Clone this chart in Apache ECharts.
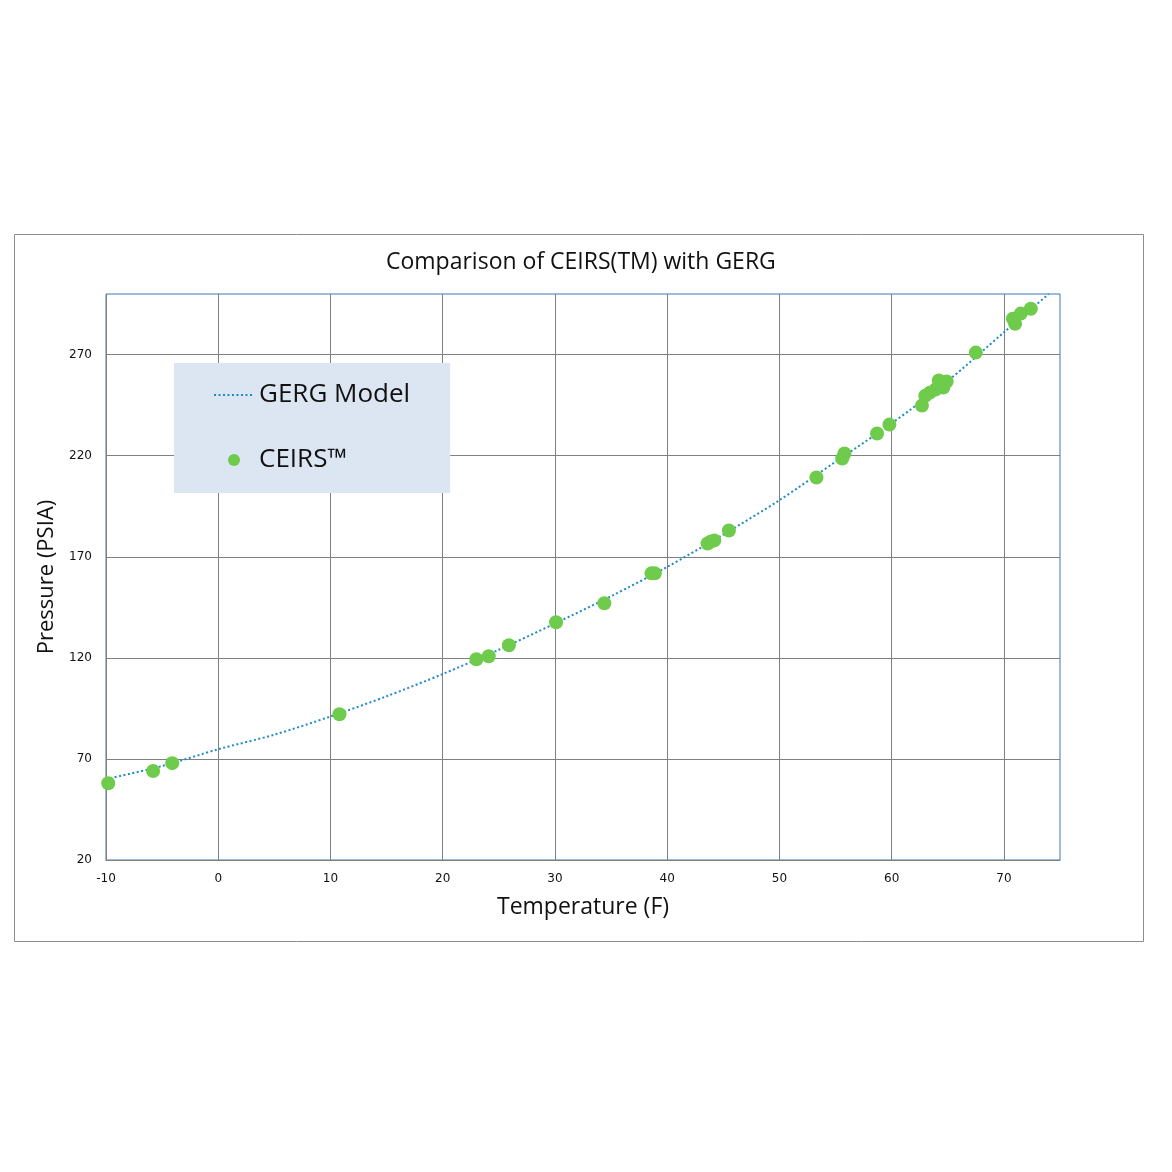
<!DOCTYPE html>
<html>
<head>
<meta charset="utf-8">
<script src="https://cdn.jsdelivr.net/npm/echarts@6/dist/echarts.min.js"></script>
<style>
html,body{margin:0;padding:0;background:#fff;}
#chart{width:1172px;height:1172px;}
</style>
</head>
<body>
<div id="chart"></div>
<script>
// GERG model curve (temperature F, pressure PSIA)
const gergTemp = [-10, -5, 0, 5, 10, 15, 20, 25, 30, 35, 40, 45, 50, 55, 60, 65, 70, 74];
const gergPress = [60, 66.5, 74.8, 82, 91, 101, 112, 124, 137, 150.5, 165, 181, 198, 217, 236, 257, 281, 300];

// CEIRS measurements
const ceirsTemp = [-9.8, -5.8, -4.1, 10.8, 23.0, 24.1, 25.9, 30.1, 34.4, 38.6, 38.9, 43.6, 43.9, 44.2, 45.5,
  53.3, 55.6, 55.8, 58.7, 59.8, 62.7, 63.0, 63.4, 63.9, 64.2, 64.9, 64.6, 67.5, 71.0, 70.8, 71.5, 72.4];
const ceirsPress = [58.0, 64.0, 67.9, 92.1, 119.3, 120.8, 126.2, 137.6, 147.0, 161.8, 161.8, 176.6, 177.6, 178.1, 183.0,
  209.2, 218.6, 221.1, 231.0, 235.4, 244.8, 249.7, 251.2, 252.7, 257.2, 256.7, 253.7, 271.0, 285.3, 287.8, 290.3, 292.7];

const xTicks = {min: -10, max: 75, interval: 10};
const yTicks = {min: 20, max: 300, interval: 50};

const chart = echarts.init(document.getElementById('chart'));
const font = '"Open Sans", "Noto Sans", sans-serif';
chart.setOption({
  backgroundColor: '#fff',
  animation: false,
  title: {
    text: 'Comparison of CEIRS(TM) with GERG',
    left: 381, top: 246,
    textStyle: {fontFamily: font, fontSize: 23, fontWeight: 'normal', color: '#111'}
  },
  graphic: [{
    type: 'rect', z: -10, silent: true,
    shape: {x: 14.5, y: 234.5, width: 1129, height: 707},
    style: {fill: 'none', stroke: '#8c8c8c', lineWidth: 1}
  }],
  legend: {
    orient: 'vertical', left: 174, top: 363,
    backgroundColor: '#dce6f2',
    padding: [16, 40, 17, 39],
    itemWidth: 40, itemHeight: 12, itemGap: 33,
    textStyle: {fontFamily: font, fontSize: 26, color: '#111', lineHeight: 32},
    data: [
      {name: 'GERG Model', itemStyle: {opacity: 0}},
      {name: 'CEIRS\u2122'}
    ]
  },
  grid: {
    left: 106, top: 294, right: 112, bottom: 312,
    show: true, borderColor: '#3a78b5', borderWidth: 1, backgroundColor: 'transparent'
  },
  xAxis: {
    type: 'value', min: xTicks.min, max: xTicks.max, interval: xTicks.interval,
    name: 'Temperature (F)', nameLocation: 'middle', nameGap: 36,
    nameTextStyle: {fontFamily: font, fontSize: 23, color: '#111'},
    axisLine: {show: true, lineStyle: {color: '#808080', width: 1}},
    axisTick: {show: false},
    splitLine: {show: true, showMaxLine: false, lineStyle: {color: '#808080', width: 1}},
    axisLabel: {showMaxLabel: false, margin: 13, fontFamily: '"DejaVu Sans", sans-serif', fontSize: 12, color: '#111'}
  },
  yAxis: {
    type: 'value', min: yTicks.min, max: yTicks.max, interval: yTicks.interval,
    name: 'Pressure (PSIA)', nameLocation: 'middle', nameGap: 45,
    nameTextStyle: {fontFamily: font, fontSize: 22, color: '#111'},
    axisLine: {show: true, lineStyle: {color: '#808080', width: 1}},
    axisTick: {show: false},
    splitLine: {show: true, showMaxLine: false, lineStyle: {color: '#808080', width: 1}},
    axisLabel: {showMaxLabel: false, margin: 14, fontFamily: '"DejaVu Sans", sans-serif', fontSize: 12, color: '#111'}
  },
  series: [
    {
      name: 'GERG Model', type: 'line', smooth: 0.3, showSymbol: false, symbol: 'none',
      data: gergTemp.map((t, i) => [t, gergPress[i]]),
      lineStyle: {color: '#1f8ac4', width: 2, type: [2, 2.5]},
      itemStyle: {color: '#1f8ac4'},
      z: 3
    },
    {
      name: 'CEIRS\u2122', type: 'scatter', symbol: 'circle', symbolSize: 14,
      data: ceirsTemp.map((t, i) => [t, ceirsPress[i]]),
      itemStyle: {color: '#6fcb4b', opacity: 1},
      z: 4
    }
  ]
});
</script>
</body>
</html>
